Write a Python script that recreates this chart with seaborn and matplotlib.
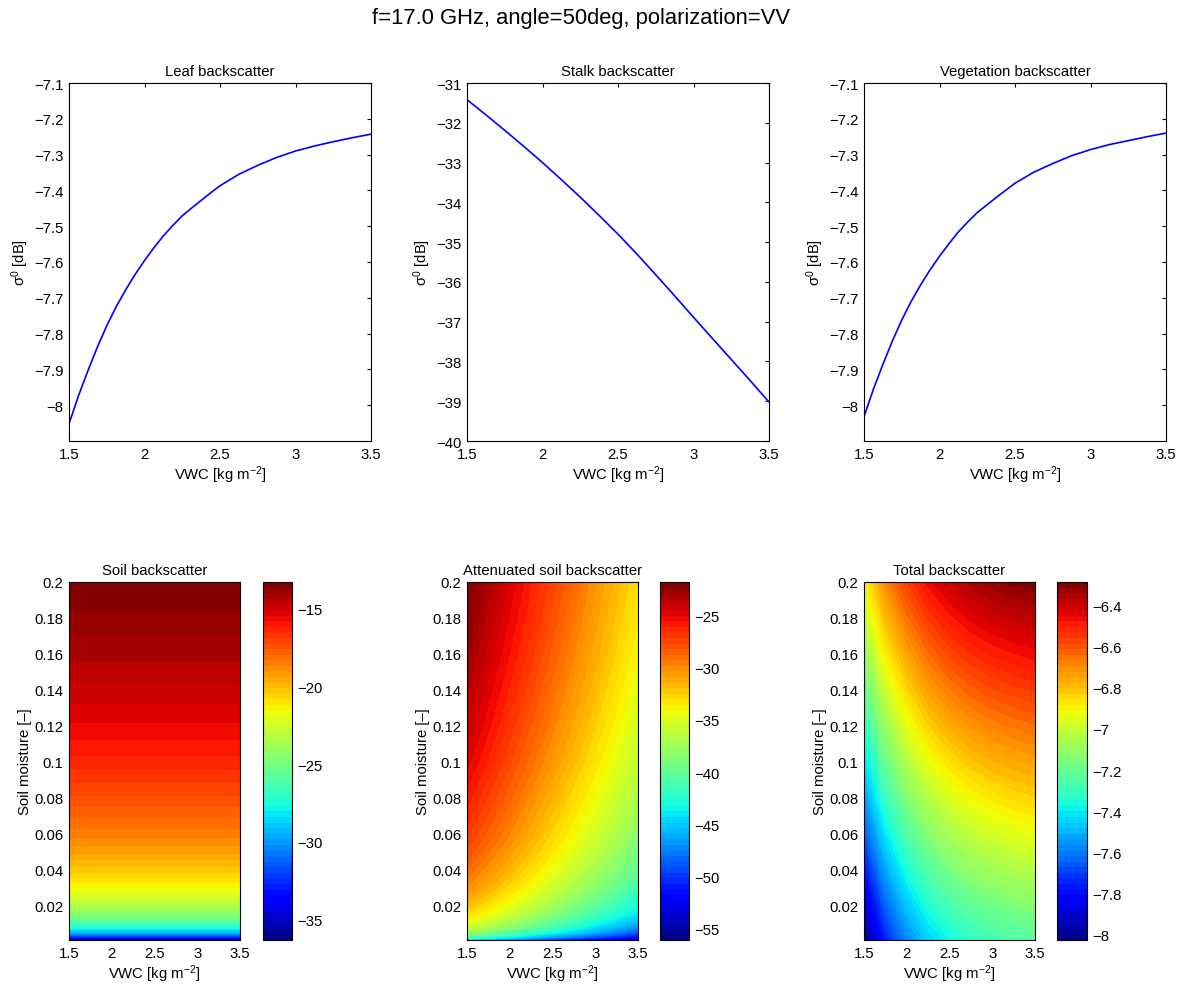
import numpy as np
import matplotlib
matplotlib.use("Agg")
import matplotlib.pyplot as plt
import seaborn as sns
from matplotlib.ticker import FuncFormatter

# ---------------- data ----------------
vwc = [1.5, 1.5625, 1.625, 1.6875, 1.75, 1.8125, 1.875, 1.9375, 2.0,
       2.0625, 2.125, 2.1875, 2.25, 2.3125, 2.375, 2.4375, 2.5,
       2.625, 2.75, 2.875, 3.0, 3.125, 3.25, 3.375, 3.5]
leaf_sigma = [-8.052, -7.974, -7.904, -7.838, -7.778, -7.725, -7.678, -7.635, -7.596,
              -7.560, -7.527, -7.498, -7.471, -7.449, -7.428, -7.407, -7.387,
              -7.355, -7.330, -7.308, -7.290, -7.276, -7.264, -7.253, -7.243]
stalk_sigma = [-31.42, -31.61, -31.80, -31.995, -32.19, -32.39, -32.59, -32.795, -33.00,
               -33.215, -33.43, -33.65, -33.87, -34.10, -34.33, -34.565, -34.80,
               -35.30, -35.82, -36.35, -36.89, -37.42, -37.95, -38.48, -39.02]
veg_sigma = [-8.032, -7.955, -7.886, -7.821, -7.762, -7.710, -7.664, -7.622, -7.584,
             -7.549, -7.516, -7.488, -7.462, -7.441, -7.420, -7.400, -7.380,
             -7.349, -7.325, -7.303, -7.286, -7.272, -7.261, -7.250, -7.240]

soil_moisture = [0.001, 0.0025, 0.005, 0.0075, 0.01, 0.015, 0.02, 0.03, 0.04,
                 0.05, 0.06, 0.08, 0.10, 0.12, 0.14, 0.16, 0.18, 0.20]
soil_vwc = [1.5, 3.5]
soil_sigma = [-36.3, -32.3, -29.3, -27.6, -26.3, -24.55, -23.3, -21.5, -20.3,
              -19.3, -18.5, -17.3, -16.3, -15.5, -14.85, -14.25, -13.75, -13.3]

att_vwc = [1.5, 2.0, 2.5, 3.0, 3.5]
att_sigma = [
    [-44.78, -47.60, -50.43, -53.25, -56.08],
    [-40.78, -43.60, -46.43, -49.25, -52.08],
    [-37.78, -40.60, -43.43, -46.25, -49.08],
    [-36.08, -38.90, -41.73, -44.55, -47.38],
    [-34.78, -37.60, -40.43, -43.25, -46.08],
    [-33.03, -35.85, -38.68, -41.50, -44.33],
    [-31.78, -34.60, -37.43, -40.25, -43.08],
    [-29.98, -32.80, -35.63, -38.45, -41.28],
    [-28.78, -31.60, -34.43, -37.25, -40.08],
    [-27.78, -30.60, -33.43, -36.25, -39.08],
    [-26.98, -29.80, -32.63, -35.45, -38.28],
    [-25.78, -28.60, -31.43, -34.25, -37.08],
    [-24.78, -27.60, -30.43, -33.25, -36.08],
    [-23.98, -26.80, -29.63, -32.45, -35.28],
    [-23.33, -26.15, -28.98, -31.80, -34.63],
    [-22.73, -25.55, -28.38, -31.20, -34.03],
    [-22.23, -25.05, -27.88, -30.70, -33.53],
    [-21.78, -24.60, -27.43, -30.25, -33.08],
]

total_moisture = [0.001, 0.02, 0.04, 0.06, 0.08, 0.10, 0.12, 0.14, 0.16, 0.18, 0.20]
total_vwc = [1.5, 1.75, 2.0, 2.25, 2.5, 2.75, 3.0, 3.25, 3.5]
total_sigma = [
    [-8.026, -7.753, -7.578, -7.456, -7.375, -7.320, -7.281, -7.256, -7.235],
    [-7.906, -7.640, -7.470, -7.351, -7.271, -7.218, -7.179, -7.155, -7.135],
    [-7.783, -7.525, -7.359, -7.243, -7.165, -7.113, -7.075, -7.052, -7.032],
    [-7.664, -7.412, -7.251, -7.137, -7.061, -7.010, -6.974, -6.951, -6.931],
    [-7.548, -7.303, -7.145, -7.034, -6.960, -6.910, -6.875, -6.852, -6.833],
    [-7.435, -7.196, -7.042, -6.934, -6.861, -6.812, -6.778, -6.755, -6.737],
    [-7.325, -7.091, -6.941, -6.835, -6.764, -6.717, -6.683, -6.661, -6.643],
    [-7.217, -6.989, -6.842, -6.739, -6.670, -6.623, -6.590, -6.569, -6.551],
    [-7.112, -6.890, -6.746, -6.645, -6.577, -6.531, -6.499, -6.478, -6.461],
    [-7.010, -6.792, -6.652, -6.553, -6.487, -6.442, -6.410, -6.389, -6.372],
    [-6.910, -6.697, -6.560, -6.463, -6.398, -6.354, -6.323, -6.303, -6.286],
]

suptitle = "f=17.0 GHz, angle=50deg, polarization=VV"
xlabel = "VWC [kg m$^{-2}$]"
ylabel_top = "\u03c3$^0$ [dB]"
ylabel_bottom = "Soil moisture [\u2013]"

# ---------------- style ----------------
FS = 10.7
sns.set_theme(style="white")
plt.rcParams.update({
    "font.family": ["Liberation Sans", "DejaVu Sans"],
    "mathtext.fontset": "custom",
    "mathtext.rm": "Liberation Sans",
    "mathtext.it": "Liberation Sans",
    "mathtext.default": "regular",
    "font.size": FS,
    "axes.edgecolor": "black",
    "axes.linewidth": 0.8,
    "xtick.color": "black",
    "ytick.color": "black",
    "axes.labelcolor": "black",
    "text.color": "black",
})

W, H = 1184, 987
fig = plt.figure(figsize=(W / 100, H / 100), dpi=100)
fig.patch.set_facecolor("white")


def rect(x0, y0, x1, y1):
    return [x0 / W, 1 - y1 / H, (x1 - x0) / W, (y1 - y0) / H]


def fmt(v, pos):
    s = f"{v:.4g}"
    if s == "-0":
        s = "0"
    return s.replace("-", "\u2212")


def style_ax(ax):
    ax.tick_params(direction="in", length=3, width=0.8, top=True, right=True,
                   labelsize=FS, pad=4)
    ax.xaxis.set_major_formatter(FuncFormatter(fmt))
    ax.yaxis.set_major_formatter(FuncFormatter(fmt))
    for sp in ax.spines.values():
        sp.set_visible(True)
        sp.set_color("black")
        sp.set_linewidth(0.8)


xticks = [1.5, 2, 2.5, 3, 3.5]

# ---------------- top row ----------------
top_specs = [
    (rect(69, 84, 371, 442), leaf_sigma, "Leaf backscatter", (-8.1, -7.1),
     [-8.0, -7.9, -7.8, -7.7, -7.6, -7.5, -7.4, -7.3, -7.2, -7.1]),
    (rect(467, 84, 769, 442), stalk_sigma, "Stalk backscatter", (-40, -31),
     list(range(-40, -30))),
    (rect(864, 84, 1166, 442), veg_sigma, "Vegetation backscatter", (-8.1, -7.1),
     [-8.0, -7.9, -7.8, -7.7, -7.6, -7.5, -7.4, -7.3, -7.2, -7.1]),
]
for pos, ys, title, ylim, yticks in top_specs:
    ax = fig.add_axes(pos)
    sns.lineplot(x=vwc, y=ys, ax=ax, color=(0, 0, 1), linewidth=1.2)
    ax.set_xlim(1.5, 3.5)
    ax.set_ylim(*ylim)
    ax.set_xticks(xticks)
    ax.set_yticks(yticks)
    style_ax(ax)
    ax.set_title(title, fontsize=FS, pad=6)
    ax.set_xlabel(xlabel, fontsize=FS, labelpad=2)
    ax.set_ylabel(ylabel_top, fontsize=FS, labelpad=2)

# ---------------- bottom row ----------------
cmap = plt.get_cmap("jet")
yticks_b = [0.02, 0.04, 0.06, 0.08, 0.1, 0.12, 0.14, 0.16, 0.18, 0.2]

soil_grid = np.repeat(np.asarray(soil_sigma)[:, None], len(soil_vwc), axis=1)
bottom_specs = [
    (rect(69, 583, 240, 941), rect(263, 583, 292, 941), soil_vwc, soil_moisture,
     soil_grid, "Soil backscatter", [-35, -30, -25, -20, -15]),
    (rect(467, 583, 638, 941), rect(660, 583, 689, 941), att_vwc, soil_moisture,
     np.asarray(att_sigma), "Attenuated soil backscatter",
     [-55, -50, -45, -40, -35, -30, -25]),
    (rect(864, 583, 1035, 941), rect(1057, 583, 1087, 941), total_vwc, total_moisture,
     np.asarray(total_sigma), "Total backscatter",
     [-8, -7.8, -7.6, -7.4, -7.2, -7, -6.8, -6.6, -6.4]),
]
for pos, cpos, xs, ys, Z, title, cticks in bottom_specs:
    ax = fig.add_axes(pos)
    levels = np.linspace(Z.min(), Z.max(), 65)
    cs = ax.contourf(xs, ys, Z, levels=levels, cmap=cmap, antialiased=False)
    ax.set_xlim(1.5, 3.5)
    ax.set_ylim(0.001, 0.2)
    ax.set_xticks(xticks)
    ax.set_yticks(yticks_b)
    style_ax(ax)
    ax.set_title(title, fontsize=FS, pad=6)
    ax.set_xlabel(xlabel, fontsize=FS, labelpad=2)
    ax.set_ylabel(ylabel_bottom, fontsize=FS, labelpad=2)

    cax = fig.add_axes(cpos)
    cb = fig.colorbar(cs, cax=cax, ticks=cticks)
    cb.outline.set_linewidth(0.8)
    cb.outline.set_edgecolor("black")
    cax.tick_params(direction="in", length=3, width=0.8, left=True, right=True,
                    labelsize=FS, pad=4)
    cax.yaxis.set_major_formatter(FuncFormatter(fmt))

fig.suptitle(suptitle, fontsize=15.8, x=0.491, y=0.992)

fig.savefig("out.png", dpi=100, facecolor="white")
